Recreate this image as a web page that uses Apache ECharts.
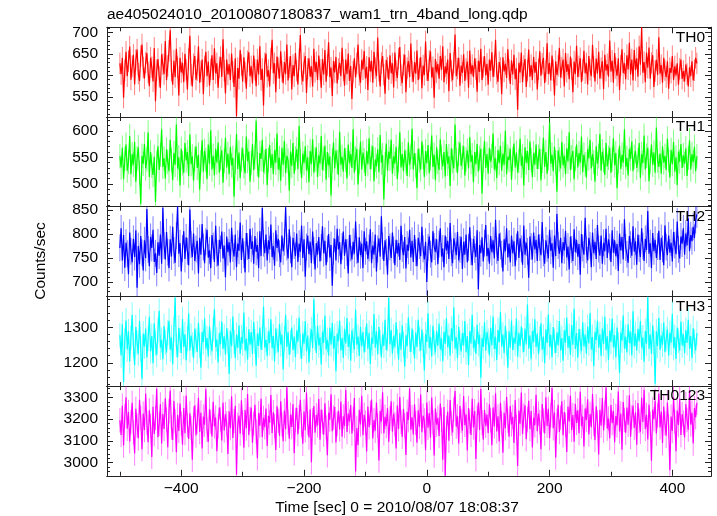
<!DOCTYPE html>
<html><head><meta charset="utf-8">
<script src="https://cdn.jsdelivr.net/npm/echarts@6/dist/echarts.min.js"></script>
<style>html,body{margin:0;padding:0;background:#fff}#c{width:717px;height:516px}</style>
</head><body><div id="c"></div>
<script>
// Light curve bins: start time and bin width (sec)
const binStart = -500, binSize = 2;

const th0 = [
628,603,641,548,612,655,598,633,667,590,621,648,579,636,660,604,587,645,672,618,
593,630,652,607,575,641,619,586,664,540,612,638,597,571,649,626,603,680,589,622,
657,705,611,578,634,596,662,619,553,641,607,629,584,650,613,567,638,692,601,574,
626,645,590,612,668,583,609,637,556,621,655,598,632,576,614,647,589,663,605,628,
571,619,643,596,684,611,558,637,602,626,589,651,608,573,640,505,617,592,659,624,
586,642,607,569,633,654,598,621,581,646,613,575,637,602,668,589,615,530,628,651,
597,612,574,639,683,605,628,561,644,617,593,656,609,582,631,603,672,588,619,645,
567,624,598,652,611,579,637,694,603,586,628,645,559,615,640,597,621,574,662,608,
631,589,646,613,571,638,602,659,585,624,677,596,618,552,634,607,643,581,615,629,
598,664,612,576,637,603,651,587,622,545,609,640,595,628,672,601,583,636,614,657,
593,620,566,642,609,634,583,655,617,598,688,611,574,629,645,602,557,636,618,590,
647,605,628,572,653,611,594,639,666,600,582,625,648,561,617,633,596,674,609,585,
631,604,658,589,616,642,570,623,601,679,612,587,634,656,595,619,548,638,607,627,
592,645,613,668,584,621,604,637,563,652,610,589,629,695,598,616,641,576,623,606,
649,587,615,632,571,658,603,624,596,640,615,562,634,608,662,589,619,645,600,627,
578,637,611,654,596,622,683,604,585,631,617,556,642,609,627,594,661,613,580,635,
602,648,591,616,520,629,607,653,584,622,638,573,611,660,597,624,589,643,606,631,
567,614,656,599,627,641,582,610,675,603,629,588,646,612,553,633,601,622,664,595,
618,637,574,652,608,626,591,644,615,561,632,603,669,596,621,640,584,612,657,605,
628,579,645,613,598,671,620,586,639,604,655,592,617,633,568,648,611,626,597,681,
609,634,583,652,617,599,640,566,623,661,605,628,591,647,614,676,602,637,588,659,
612,640,597,668,625,712,606,631,584,653,618,665,592,629,647,573,610,636,601,689,
604,624,583,641,612,596,633,569,617,606,645,589,621,600,628,578,615,637,592,610,
586,625,603,574,619,598,633,588,612,641,628];

const th1 = [
552,531,568,509,547,574,525,541,590,518,556,536,579,504,548,569,521,462,553,538,
575,529,546,597,513,560,534,517,551,466,540,571,526,555,603,532,548,510,565,541,
524,583,545,507,558,536,612,529,550,497,566,539,521,577,544,560,515,593,537,552,
506,547,571,530,555,489,541,582,523,562,545,509,574,538,601,527,553,516,566,540,
578,521,548,563,502,544,587,531,557,518,570,535,549,476,542,594,528,559,511,546,
567,533,520,589,543,561,504,539,575,526,551,619,537,512,558,547,583,522,541,566,
498,545,573,530,556,518,564,540,595,527,549,506,568,536,581,520,553,544,487,561,
534,577,519,548,565,528,609,543,511,557,539,571,525,550,503,562,537,584,521,546,
569,513,554,538,590,526,547,572,508,560,535,552,478,544,578,529,563,541,517,598,
536,551,523,567,545,510,574,539,556,530,603,521,548,566,499,542,580,527,559,544,
515,562,537,586,528,550,571,505,546,533,565,522,592,540,554,471,537,576,525,561,
547,583,519,552,538,570,509,545,597,531,556,524,563,542,515,578,536,550,604,527,
558,535,492,566,544,527,580,551,513,562,539,573,520,548,591,532,555,507,569,541,
526,584,549,533,560,514,575,538,552,496,567,543,529,612,545,520,557,578,534,550,
571,516,546,563,529,588,541,554,503,560,537,575,523,549,566,482,544,581,530,556,
519,568,542,553,595,527,548,511,564,539,572,525,557,536,600,518,551,545,566,508,
547,576,531,559,521,543,585,534,552,497,569,540,562,526,580,545,513,558,536,574,
528,551,566,507,543,587,532,560,519,548,615,538,555,524,570,541,485,563,546,529,
579,535,553,518,567,542,597,526,550,562,509,547,574,531,558,540,589,522,555,537,
512,565,548,583,529,556,541,504,571,538,552,594,525,561,544,517,577,533,549,568,
521,546,586,535,558,492,543,572,528,555,540,603,532,549,516,566,547,580,524,551,
562,530,545,577,511,556,539,591,527,553,568,505,542,574,536,559,521,606,544,532,
557,519,571,540,553,526,585,545,512,564,537,579,523,550,498,561,542,575,530,554,
538,567,515,549,582,527,556,541,570,524,552];

const th2 = [
771,812,745,798,730,782,759,716,803,764,741,790,752,808,688,775,737,796,761,724,
787,750,852,768,733,794,771,809,742,760,719,783,755,799,738,855,776,747,804,762,
729,789,753,815,766,740,797,858,759,781,722,770,806,748,793,764,735,851,778,752,
801,744,769,786,718,792,757,821,773,739,784,809,751,766,729,798,775,742,817,760,
734,788,769,805,749,776,710,795,762,783,741,813,770,753,799,731,780,765,824,746,
791,757,720,802,774,748,811,769,785,738,796,763,777,729,806,754,854,781,760,799,
745,787,768,820,752,775,734,808,771,790,759,741,797,764,783,856,773,749,810,767,
731,792,776,754,801,742,780,763,818,750,789,711,773,797,758,784,739,805,766,726,
781,757,794,743,772,816,760,786,735,769,800,751,777,692,764,790,745,811,768,783,
737,774,805,755,789,762,718,798,771,747,784,759,826,766,740,793,756,780,729,806,
764,785,748,771,810,739,776,757,799,722,769,791,753,837,775,744,787,762,715,796,
773,750,803,767,735,788,759,781,746,817,770,756,794,728,778,765,809,751,786,742,
798,761,733,792,776,754,815,769,747,784,700,772,795,758,741,806,774,763,789,737,
779,812,753,770,731,797,766,786,748,823,761,739,791,775,756,804,745,768,794,727,
784,757,799,741,772,814,763,735,790,768,752,808,685,777,760,793,743,781,819,754,
771,738,796,762,787,749,830,766,744,801,775,758,722,789,764,812,751,780,741,797,
760,785,733,773,806,750,791,769,736,818,757,782,764,709,795,774,747,803,768,788,
744,799,772,756,825,761,738,787,770,749,809,765,781,730,797,754,842,776,759,792,
739,783,766,807,751,774,726,795,768,744,810,762,788,753,779,715,800,771,757,834,
767,745,792,776,731,803,760,784,748,819,769,755,797,738,782,764,811,750,789,773,
742,808,761,787,754,779,723,801,766,794,747,831,772,758,740,796,778,755,816,763,
785,736,799,770,752,812,775,744,790,767,848,759,781,729,802,764,788,750,774,807,
746,792,769,735,818,773,756,797,761,782,743,804,777,758,826,768,749,795,780,812,
757,801,776,833,764,798,785,815,792,829,841];

const th3 = [
1278,1221,1309,1145,1262,1320,1238,1289,1204,1271,1336,1249,1193,1301,1257,1226,1318,1240,1154,1283,
1246,1297,1215,1268,1330,1233,1276,1199,1312,1255,1222,1291,1347,1243,1265,1210,1304,1258,1229,1286,
1319,1237,1272,1196,1293,1385,1250,1216,1299,1263,1228,1324,1245,1281,1207,1268,1340,1235,1277,1252,
1213,1296,1264,1231,1313,1249,1186,1287,1259,1325,1240,1270,1218,1303,1256,1232,1294,1352,1244,1266,
1201,1284,1253,1317,1239,1275,1223,1298,1262,1168,1290,1247,1331,1259,1214,1280,1242,1306,1226,1273,
1255,1342,1234,1268,1209,1295,1251,1287,1225,1316,1260,1192,1283,1248,1300,1237,1271,1359,1243,1265,
1219,1289,1256,1323,1241,1276,1204,1297,1262,1230,1310,1252,1279,1182,1268,1335,1245,1287,1223,1258,
1300,1236,1274,1216,1291,1260,1328,1247,1211,1283,1254,1318,1233,1277,1201,1264,1295,1242,1380,1270,
1228,1305,1249,1272,1195,1288,1257,1334,1238,1265,1220,1299,1252,1313,1240,1276,1176,1283,1261,1319,
1235,1270,1214,1296,1255,1327,1245,1281,1206,1292,1263,1238,1350,1251,1274,1219,1302,1246,1287,1229,
1266,1311,1239,1285,1197,1271,1254,1338,1243,1289,1224,1301,1258,1216,1280,1248,1322,1236,1268,1384,
1252,1293,1226,1275,1244,1315,1260,1209,1284,1237,1306,1253,1189,1278,1247,1329,1266,1231,1297,1258,
1212,1286,1245,1322,1267,1234,1294,1251,1178,1281,1259,1340,1242,1273,1218,1305,1256,1229,1290,1248,
1311,1238,1269,1205,1288,1254,1326,1244,1277,1220,1298,1261,1357,1240,1272,1213,1302,1257,1232,1284,
1249,1318,1230,1276,1194,1290,1255,1336,1241,1266,1225,1308,1253,1279,1158,1270,1245,1315,1234,1287,
1262,1221,1299,1250,1331,1239,1274,1208,1293,1258,1344,1246,1280,1227,1305,1256,1186,1289,1243,1320,
1236,1271,1254,1325,1217,1285,1248,1303,1264,1231,1296,1252,1365,1240,1277,1210,1290,1259,1323,1244,
1283,1224,1268,1312,1237,1274,1199,1295,1256,1337,1245,1279,1215,1301,1262,1228,1286,1250,1318,1235,
1270,1206,1292,1257,1328,1243,1276,1222,1307,1251,1353,1239,1284,1214,1296,1260,1233,1315,1247,1279,
1226,1302,1255,1341,1238,1273,1190,1288,1264,1319,1242,1281,1219,1297,1253,1330,1236,1275,1208,1291,
1259,1325,1244,1278,1216,1300,1252,1171,1285,1263,1334,1240,1274,1229,1309,1256,1288,1221,1346,1247,
1282,1234,1296,1261,1318,1243,1272,1203,1290,1254,1386,1239,1280,1225,1306,1258,1141,1289,1248,1327,
1236,1277,1251,1314,1230,1268,1295,1220,1285,1257,1339,1242,1273,1211,1300,1262,1234,1317,1249,1281,
1228,1293,1256,1322,1240,1276,1213,1298,1260,1235,1284];

const th0123 = [
3195,3128,3262,3079,3214,3301,3156,3233,3098,3187,3275,3140,3043,3248,3171,3112,3289,3205,3062,3226,
3150,3318,3183,3094,3241,3169,3027,3257,3132,3206,3340,3117,3178,3268,3089,3224,3155,3296,3198,3071,
3237,3332,3162,3105,3283,3191,3048,3219,3146,3272,3180,3083,3251,3136,3309,3172,3109,3227,3160,3014,
3203,3264,3125,3189,3298,3141,3230,3066,3212,3175,3337,3152,3096,3245,3188,3121,3280,3167,3208,3053,
3166,3254,3199,3102,3276,3148,3223,3181,3040,3236,3159,3305,3114,3192,3261,2945,3174,3217,3133,3287,
3185,3069,3242,3158,3316,3127,3201,3253,3092,3179,3266,3143,3021,3228,3170,3294,3118,3206,3163,3249,
3077,3215,3184,3311,3137,3232,3168,3059,3259,3193,3124,3282,3176,3099,3240,3154,3347,3186,3110,3221,
3164,3270,3044,3197,3252,3131,3210,3289,3173,3087,3235,3149,3323,3182,3116,3246,3002,3195,3260,3138,
3219,3171,3293,3106,3244,3187,3129,3273,3162,3034,3230,3198,3315,3145,3207,3256,3093,3178,3239,3153,
3281,3120,3213,3169,3334,3141,3226,3189,3265,3134,3201,3297,2960,3159,3081,3243,3176,3308,3126,3220,
3185,3052,3258,3163,3229,3290,3111,3196,3147,3276,3172,3010,3237,3190,3324,3135,3211,3168,3251,3097,
3204,3282,3143,3225,3177,3065,3263,3155,3302,3188,3119,3247,3172,3036,3234,3196,3341,3152,3209,3130,
3268,3183,3092,3241,3165,3313,3140,3216,3194,3058,3277,3161,3228,3115,3299,3186,3033,3249,3175,3206,
3123,3272,3197,3014,3256,2940,3160,3234,3101,3288,3180,3139,3245,3329,3166,3213,3088,3261,3192,3147,
3306,3174,3222,3056,3251,3189,3128,3294,3162,3237,3017,3208,3277,3151,3339,3183,3106,3242,3170,3221,
3137,3268,3195,3080,3254,3167,3319,3144,3213,3098,3275,3181,3046,3229,3158,3303,3193,3120,3260,3176,
3211,3091,3288,3163,2985,3240,3179,3322,3132,3216,3264,3108,3199,3285,3154,3237,3070,3206,3172,3312,
3145,3226,3187,3062,3270,3194,3134,3301,3169,3248,3113,3218,3343,3158,3232,3024,3192,3266,3141,3207,
3282,3126,3233,3174,3049,3258,3190,3308,3150,3219,3097,3271,3183,3241,3136,3326,3168,3212,3075,3249,
3197,3291,3130,3224,3163,3316,3178,3104,3259,3185,3038,3243,3170,3297,3148,3229,3346,3157,3203,3112,
3265,3182,3239,3094,3215,3171,3327,3143,3226,3060,3279,3196,3138,3253,3175,3310,3119,3208,3263,3160,
3231,3083,3274,3192,3142,3298,3187,3335,3155,3220,3107,3267,3179,3009,3244,3200,3286,3134,3217,3318,
3162,3235,3091,3258,3181,3124,3277,3168,2965,3212,3146,3301,3189,3053,3240,3173,3295,3127,3223,3184,
3116,3269,3197,3152,3334,3176,3230,3088,3251,3209,3275];

// 1-sigma error of each bin, per band (counts/sec)
const errTH = [25, 23, 28, 35, 56];

const panelNames = ['TH0', 'TH1', 'TH2', 'TH3', 'TH0123'];
const panelValues = [th0, th1, th2, th3, th0123];
const colors = ['#ff0000', '#00ff00', '#0000ff', '#00ffff', '#ff00ff'];

const xRange = [-521, 463];
const xMajor = [-400, -200, 0, 200, 400];
const xMinor = [-500, -300, -100, 100, 300];
const yRanges = [[503, 712], [457, 626], [670, 857], [1134, 1388], [2940, 3352]];
const yMajor = [[550, 600, 650, 700], [500, 550, 600], [700, 750, 800, 850], [1200, 1300], [3000, 3100, 3200, 3300]];
const yMinorStep = [10, 10, 10, 20, 20];

const titleText = 'ae405024010_20100807180837_wam1_trn_4band_long.qdp';
const xTitle = 'Time [sec] 0 = 2010/08/07 18:08:37';
const yTitle = 'Counts/sec';

const font = '"Liberation Sans", Arial, Helvetica, sans-serif';
const fs = 15.5;
const fmt = v => (v < 0 ? '\u2212' + (-v) : String(v));

const gridTop = 27.3, gridH = 89.7, gridLeft = 107, gridRight = 6;

const grids = [], xAxes = [], yAxes = [], series = [], graphics = [];

function xAx(k, pos, ticks, len, labels) {
  return {
    type: 'value', gridIndex: k, min: xRange[0], max: xRange[1], position: pos,
    axisLine: { show: true, onZero: false, lineStyle: { color: '#222', width: 1 } },
    axisTick: { show: true, inside: true, length: len, customValues: ticks, lineStyle: { color: '#222', width: 1 } },
    axisLabel: { show: labels, customValues: ticks, formatter: fmt, fontSize: fs, color: '#000', margin: 5, fontFamily: font },
    splitLine: { show: false }, minorTick: { show: false }
  };
}
function yAx(k, pos, ticks, len, labels) {
  return {
    type: 'value', gridIndex: k, min: yRanges[k][0], max: yRanges[k][1], position: pos,
    axisLine: { show: true, onZero: false, lineStyle: { color: '#222', width: 1 } },
    axisTick: { show: true, inside: true, length: len, customValues: ticks, lineStyle: { color: '#222', width: 1 } },
    axisLabel: { show: labels, customValues: ticks, formatter: fmt, fontSize: fs, color: '#000', margin: 9, fontFamily: font },
    splitLine: { show: false }, minorTick: { show: false }
  };
}

for (let k = 0; k < 5; k++) {
  const top = gridTop + k * gridH;
  grids.push({ left: gridLeft, right: gridRight, top: top, height: gridH, containLabel: false });
  const xi = xAxes.length, yi = yAxes.length;
  xAxes.push(xAx(k, 'bottom', xMajor, 6, k === 4));
  xAxes.push(xAx(k, 'bottom', xMinor, 4, false));
  xAxes.push(xAx(k, 'top', xMajor, 6, false));
  xAxes.push(xAx(k, 'top', xMinor, 4, false));
  const minors = [];
  const st = yMinorStep[k];
  for (let v = Math.ceil(yRanges[k][0] / st) * st; v <= yRanges[k][1]; v += st) {
    if (yMajor[k].indexOf(v) < 0) minors.push(v);
  }
  yAxes.push(yAx(k, 'left', yMajor[k], 6, true));
  yAxes.push(yAx(k, 'left', minors, 3, false));
  yAxes.push(yAx(k, 'right', yMajor[k], 6, false));
  yAxes.push(yAx(k, 'right', minors, 3, false));

  const vals = panelValues[k];
  const lineData = vals.map((v, i) => [binStart + binSize * i, v]);
  const e = errTH[k];
  const errData = vals.map((v, i) => [binStart + binSize * i, v - e, v + e]);
  const color = colors[k];
  const lo = yRanges[k][0], hi = yRanges[k][1];
  series.push({
    type: 'custom', xAxisIndex: xi, yAxisIndex: yi, data: errData, z: 1, silent: true,
    renderItem: (params, api) => {
      const x = api.value(0);
      const a = Math.max(lo, api.value(1)), b = Math.min(hi, api.value(2));
      const p1 = api.coord([x, a]), p2 = api.coord([x, b]);
      return { type: 'line', shape: { x1: p1[0], y1: p1[1], x2: p2[0], y2: p2[1] },
        style: { stroke: color, lineWidth: 1, opacity: 0.5 } };
    }
  });
  series.push({
    type: 'line', xAxisIndex: xi, yAxisIndex: yi, data: lineData, showSymbol: false, symbol: 'none',
    lineStyle: { color: color, width: 1.2 }, z: 2, silent: true, clip: true
  });
  graphics.push({
    type: 'text', right: 717 - 705, top: top + 2,
    style: { text: panelNames[k], font: fs + 'px ' + font, fill: '#000' }, z: 10
  });
}

graphics.push({ type: 'text', left: 107, top: 7, style: { text: titleText, font: fs + 'px ' + font, fill: '#000' } });
graphics.push({ type: 'text', x: 397, y: 508, style: { text: xTitle, font: fs + 'px ' + font, fill: '#000', textAlign: 'center', textVerticalAlign: 'middle' } });
graphics.push({ type: 'text', x: 41, y: 261, rotation: Math.PI / 2, style: { text: yTitle, font: fs + 'px ' + font, fill: '#000', textAlign: 'center', textVerticalAlign: 'middle' } });

const chart = echarts.init(document.getElementById('c'), null, { renderer: 'canvas' });
chart.setOption({
  animation: false,
  backgroundColor: '#fff',
  grid: grids, xAxis: xAxes, yAxis: yAxes, series: series, graphic: graphics
});
</script></body></html>
